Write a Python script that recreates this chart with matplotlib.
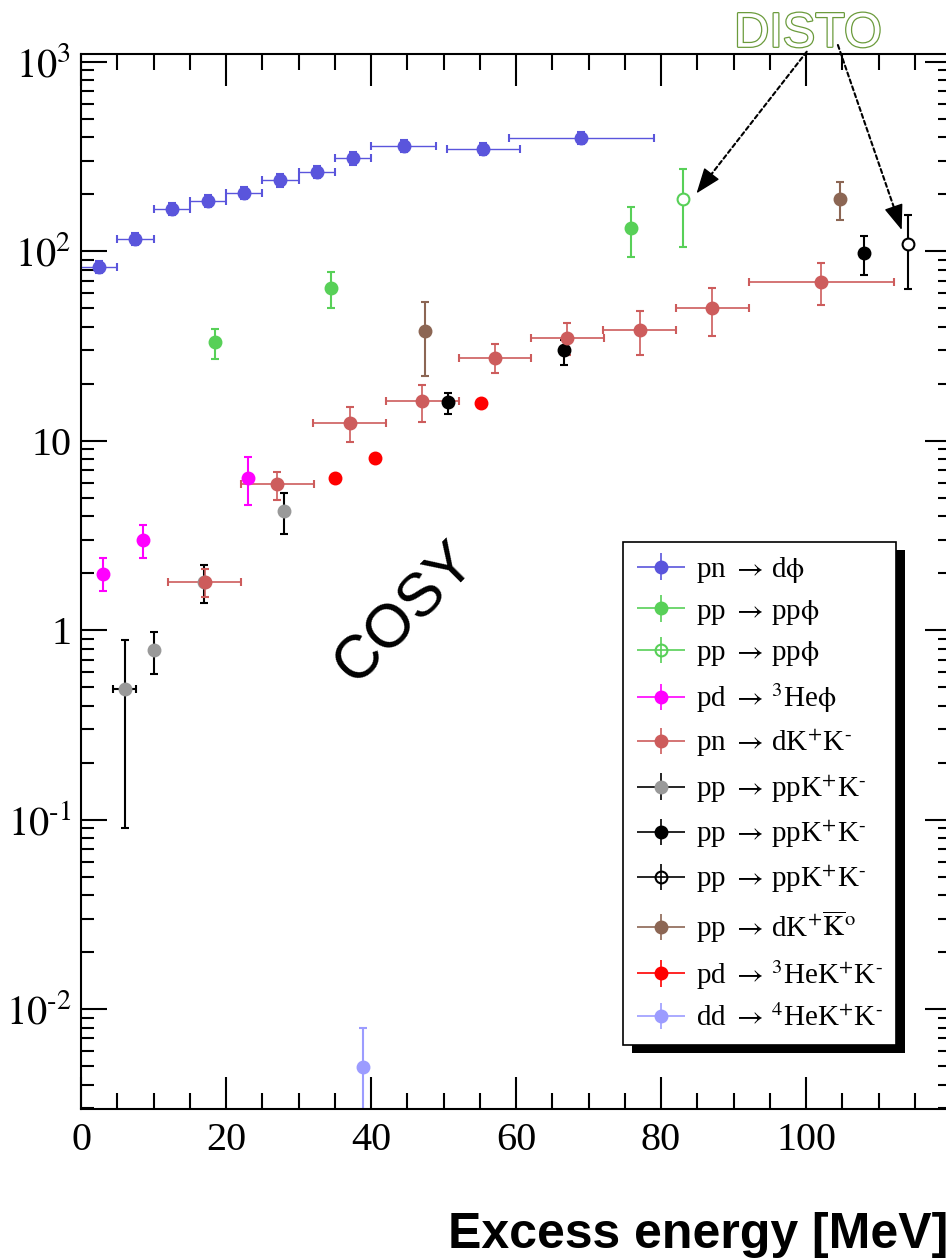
import numpy as np
import matplotlib
matplotlib.use('Agg')
import matplotlib.pyplot as plt
import matplotlib.patheffects as pe
from matplotlib.ticker import MultipleLocator, FixedLocator, FixedFormatter, LogLocator, NullFormatter
from matplotlib.legend_handler import HandlerErrorbar
from matplotlib.container import ErrorbarContainer
from matplotlib.patches import Rectangle

plt.rcParams['font.family'] = ['Liberation Serif', 'DejaVu Serif']
plt.rcParams['mathtext.fontset'] = 'stix'

# pn -> d phi
pn_dphi_x = [2.5, 7.5, 12.5, 17.5, 22.5, 27.5, 32.5, 37.5, 44.5, 55.5, 69.0]
pn_dphi_xerr = [2.5, 2.5, 2.5, 2.5, 2.5, 2.5, 2.5, 2.5, 4.5, 5.0, 10.0]
pn_dphi_y = [83, 116, 167, 185, 203, 237, 262, 309, 360, 346, 396]
pn_dphi_lo = [77, 108, 155, 171, 188, 219, 242, 286, 333, 320, 366]
pn_dphi_hi = [89, 124, 179, 199, 218, 255, 282, 332, 387, 372, 426]

# pp -> pp phi (COSY, plein) et DISTO (vide)
pp_phi_x = [18.5, 34.5, 75.9]
pp_phi_y = [33.0, 64.0, 132.0]
pp_phi_lo = [27.0, 50.0, 93.5]
pp_phi_hi = [39.0, 77.6, 171.6]

pp_phi_disto_x = [83.0]
pp_phi_disto_y = [189.0]
pp_phi_disto_lo = [105.0]
pp_phi_disto_hi = [272.0]

# pd -> 3He phi
pd_hephi_x = [3.1, 8.5, 23.1]
pd_hephi_y = [1.99, 2.99, 6.38]
pd_hephi_lo = [1.60, 2.39, 4.58]
pd_hephi_hi = [2.39, 3.59, 8.17]

# pn -> d K+ K-
pn_dkk_x = [17.06, 27.1, 37.06, 47.1, 57.1, 67.1, 77.06, 87.1, 102.1]
pn_dkk_xerr = [5, 5, 5, 5, 5, 5, 5, 5, 10]
pn_dkk_y = [1.80, 5.91, 12.4, 16.2, 27.4, 34.7, 38.4, 50.0, 69.0]
pn_dkk_lo = [1.50, 4.87, 9.88, 12.55, 22.8, 28.3, 28.3, 35.8, 52.0]
pn_dkk_hi = [2.10, 6.86, 15.0, 19.7, 32.5, 41.6, 48.5, 64.2, 86.3]

# pp -> pp K+ K- (trois jeux)
pp_kk1_x = [6.0, 10.0, 17.0, 28.0]
pp_kk1_xerr = [1.65, 0, 0, 0]
pp_kk1_y = [0.488, 0.786, 1.80, 4.27]
pp_kk1_lo = [0.090, 0.588, 1.39, 3.23]
pp_kk1_hi = [0.887, 0.982, 2.22, 5.32]

pp_kk2_x = [50.6, 66.6, 108.0]
pp_kk2_y = [15.95, 30.1, 97.8]
pp_kk2_lo = [13.9, 25.1, 74.9]
pp_kk2_hi = [17.9, 34.0, 120.3]

pp_kk3_x = [114.0]
pp_kk3_y = [109.5]
pp_kk3_lo = [63.2]
pp_kk3_hi = [155.3]

# pp -> d K+ K0bar
pp_dkk0_x = [47.4, 104.7]
pp_dkk0_y = [37.8, 188.6]
pp_dkk0_lo = [22.0, 146.0]
pp_dkk0_hi = [54.0, 232.0]

# pd -> 3He K+ K-
pd_hekk_x = [35.0, 40.6, 55.2]
pd_hekk_y = [6.38, 8.07, 15.75]

# dd -> 4He K+ K-
dd_hekk_x = [38.9]
dd_hekk_y = [0.00497]
dd_hekk_lo = [0.001]
dd_hekk_hi = [0.00798]

HY = '\u2010'  # petit tiret pour les exposants
labels = [r'pn $\rightarrow\,$d$\mathrm{\phi}$',
          r'pp $\rightarrow\,$pp$\mathrm{\phi}$',
          r'pp $\rightarrow\,$pp$\mathrm{\phi}$',
          r'pd $\rightarrow\,$$^{3}$He$\mathrm{\phi}$',
          r'pn $\rightarrow\,$dK$^{+}$K$^{' + HY + '}$',
          r'pp $\rightarrow\,$ppK$^{+}$K$^{' + HY + '}$',
          r'pp $\rightarrow\,$ppK$^{+}$K$^{' + HY + '}$',
          r'pp $\rightarrow\,$ppK$^{+}$K$^{' + HY + '}$',
          r'pp $\rightarrow\,$dK$^{+}\overline{\mathrm{K}}^{\mathrm{o}}$',
          r'pd $\rightarrow\,$$^{3}$HeK$^{+}$K$^{' + HY + '}$',
          r'dd $\rightarrow\,$$^{4}$HeK$^{+}$K$^{' + HY + '}$']

c_blue = '#5a55dc'
c_green = '#58d058'
c_mag = '#ff00ff'
c_ired = '#cd5c5c'
c_grey = '#999999'
c_brown = '#8c6654'
c_red = '#ff0000'
c_lblue = '#9c9cff'

fig = plt.figure(figsize=(9.46, 12.58), dpi=100)
ax = fig.add_axes([81 / 946, 149 / 1258, 870 / 946, 1055.3 / 1258])
ax.set_yscale('log')


def serie(x, y, lo=None, hi=None, xerr=None, color='k', ecolor=None, mfc=None, lw=1.0):
    y = np.asarray(y, dtype=float)
    yerr = None
    if lo is not None:
        yerr = [y - np.asarray(lo), np.asarray(hi) - y]
    ecolor = ecolor or color
    mfc = mfc or color
    ax.errorbar(x, y, xerr=xerr, yerr=yerr, fmt='o', ms=8.5, color=color, mfc=mfc, mec=color,
                mew=1.5, ecolor=ecolor, elinewidth=lw, capsize=3, capthick=lw)
    # entree de legende : croix sans chapeaux
    h = ax.errorbar([np.nan], [np.nan], xerr=[1], yerr=[1], fmt='o', ms=8.5, color=color,
                    mfc=('none' if mfc == 'white' else mfc), mec=color, mew=1.5,
                    ecolor=ecolor, elinewidth=1.2, capsize=0)
    return h


handles = [None] * 11
handles[0] = serie(pn_dphi_x, pn_dphi_y, pn_dphi_lo, pn_dphi_hi, pn_dphi_xerr, c_blue)
handles[1] = serie(pp_phi_x, pp_phi_y, pp_phi_lo, pp_phi_hi, None, c_green, lw=1.5)
handles[2] = serie(pp_phi_disto_x, pp_phi_disto_y, pp_phi_disto_lo, pp_phi_disto_hi, None, c_green, mfc='white', lw=1.5)
handles[3] = serie(pd_hephi_x, pd_hephi_y, pd_hephi_lo, pd_hephi_hi, None, c_mag, lw=1.5)
handles[5] = serie(pp_kk1_x, pp_kk1_y, pp_kk1_lo, pp_kk1_hi, pp_kk1_xerr, c_grey, ecolor='black', lw=1.5)
handles[6] = serie(pp_kk2_x, pp_kk2_y, pp_kk2_lo, pp_kk2_hi, None, 'black', lw=1.5)
handles[4] = serie(pn_dkk_x, pn_dkk_y, pn_dkk_lo, pn_dkk_hi, pn_dkk_xerr, c_ired, lw=1.2)
handles[7] = serie(pp_kk3_x, pp_kk3_y, pp_kk3_lo, pp_kk3_hi, None, 'black', mfc='white', lw=1.5)
handles[8] = serie(pp_dkk0_x, pp_dkk0_y, pp_dkk0_lo, pp_dkk0_hi, None, c_brown, lw=1.5)
handles[9] = serie(pd_hekk_x, pd_hekk_y, None, None, None, c_red)
handles[10] = serie(dd_hekk_x, dd_hekk_y, dd_hekk_lo, dd_hekk_hi, None, c_lblue, lw=1.5)

# Axes
ax.set_xlim(0, 120)
ax.set_ylim(10 ** -2.527, 10 ** 3.0422)
ax.xaxis.set_major_locator(FixedLocator([0, 20, 40, 60, 80, 100, 120]))
ax.xaxis.set_major_formatter(FixedFormatter(['0', '20', '40', '60', '80', '100', '']))
ax.xaxis.set_minor_locator(MultipleLocator(5))
ax.yaxis.set_major_locator(FixedLocator([1e-2, 1e-1, 1, 10, 100, 1000]))
ax.yaxis.set_major_formatter(FixedFormatter(['$10^{' + HY + '2}$', '$10^{' + HY + '1}$', '1', '10',
                                             '$10^{2}$', '$10^{3}$']))
ax.yaxis.set_minor_locator(LogLocator(base=10, subs=np.arange(2, 10), numticks=20))
ax.yaxis.set_minor_formatter(NullFormatter())

ax.tick_params(axis='x', which='major', direction='in', top=True, length=23, width=1.5, labelsize=29, pad=9)
ax.tick_params(axis='x', which='minor', direction='in', top=True, length=11.5, width=1.5)
ax.tick_params(axis='y', which='major', direction='in', right=True, length=18.7, width=1.5, labelsize=29, pad=7)
ax.tick_params(axis='y', which='minor', direction='in', right=True, length=9.4, width=1.5)
for s in ax.spines.values():
    s.set_linewidth(1.5)

# Fleches DISTO : trait pointille + pointe pleine
fleches = [((84.9, 202), (100.1, 1129), (8.8, 11.4)),
           ((113.2, 129.4), (104.4, 1225), (-4.7, 13.6))]
for xy, xyt, recul in fleches:
    ax.annotate('', xy=xy, xytext=xyt, annotation_clip=False,
                arrowprops=dict(arrowstyle='-', color='black', lw=1.5,
                                linestyle=(0, (2, 1.5)), shrinkA=0, shrinkB=6))
    ax.annotate('', xy=xy, xytext=recul, textcoords='offset points', annotation_clip=False,
                arrowprops=dict(arrowstyle='-|>,head_length=0.8,head_width=0.3', color='black',
                                lw=1.0, shrinkA=0, shrinkB=0, mutation_scale=20))

fig.text(808 / 946, 1 - 46.7 / 1258, 'DISTO', family='Liberation Sans', fontsize=35,
         color='white', ha='center', va='baseline',
         path_effects=[pe.Stroke(linewidth=1.8, foreground='#6b9b3c'), pe.Normal()])

fig.text(406 / 946, 1 - 613 / 1258, 'COSY', family='Liberation Sans', fontsize=44,
         rotation=45, rotation_mode='anchor', ha='center', va='center')

fig.text(448 / 946, 1 - 1248 / 1258, 'Excess energy [MeV]', family='Liberation Sans',
         fontweight='bold', fontsize=36, ha='left', va='baseline')

leg = ax.legend(handles, labels, loc='upper left', bbox_to_anchor=(623 / 946, 1 - 541.7 / 1258),
                bbox_transform=fig.transFigure, borderaxespad=0, fancybox=False,
                edgecolor='black', framealpha=1, fontsize=21, handlelength=1.7,
                handletextpad=0.35, labelspacing=0.44, borderpad=0.45,
                handler_map={ErrorbarContainer: HandlerErrorbar(xerr_size=0.82, yerr_size=0.45)})
leg.get_frame().set_linewidth(1.2)

# ombre noire de la legende
fig.canvas.draw()
bb = leg.get_frame().get_window_extent()
ombre = Rectangle((bb.x0 + 9, bb.y0 - 8), bb.width, bb.height, transform=None,
                  facecolor='black', edgecolor='none', zorder=leg.get_zorder() - 0.1)
ax.add_artist(ombre)

fig.savefig('out.png', dpi=100)
